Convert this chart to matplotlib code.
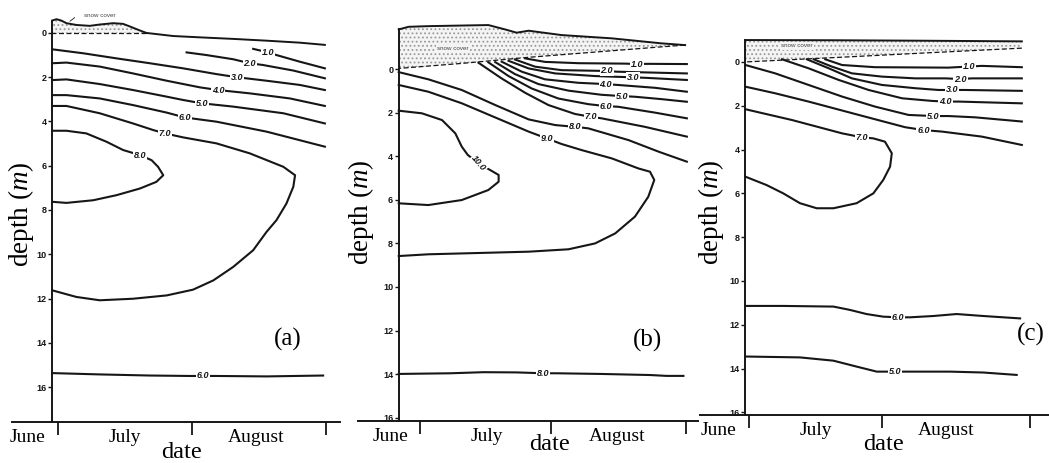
import numpy as np
import matplotlib.pyplot as plt

plt.rcParams['font.family'] = ['Liberation Serif', 'DejaVu Serif']
plt.rcParams['mathtext.fontset'] = 'custom'
plt.rcParams['mathtext.rm'] = 'Liberation Serif'
plt.rcParams['mathtext.it'] = 'Liberation Serif:italic'
plt.rcParams['hatch.color'] = '#9a9a9a'
plt.rcParams['hatch.linewidth'] = 0.8

# x = days since 1 July, y = depth (m)
months = ['June', 'July', 'August']
month_mid = [-7, 15.5, 46]
depth_ticks = [0, 2, 4, 6, 8, 10, 12, 14, 16]

# ---------------- panel (a) ----------------
a_snow_top_day = [-1.3, -0.3, 0.8, 2.0, 4.3, 7.4, 9.7, 12.8, 15.1, 16.7, 19.0, 20.5]
a_snow_top_dep = [-0.56, -0.62, -0.56, -0.44, -0.36, -0.32, -0.38, -0.44, -0.41, -0.29, -0.11, 0.0]
a_snow_bot_day = [20.5, -1.3]
a_snow_bot_dep = [0.0, 0.0]
a_surf_day = [20.5, 26.7, 32.9, 40.6, 48.3, 56.0, 61.8]
a_surf_dep = [0.0, 0.14, 0.20, 0.27, 0.35, 0.44, 0.54]

a1_day = [45.2, 48.7, 50.6, 56.0, 61.8]
a1_dep = [0.72, 0.88, 1.0, 1.30, 1.60]
a2_day = [29.8, 34.4, 40.6, 44.4, 47.5, 54.5, 61.8]
a2_dep = [0.88, 1.0, 1.19, 1.37, 1.45, 1.70, 2.05]
a3_day = [-1.3, 5.9, 13.6, 21.3, 29.0, 36.7, 41.4, 48.3, 56.0, 61.8]
a3_dep = [0.74, 0.92, 1.15, 1.37, 1.60, 1.86, 2.0, 2.16, 2.35, 2.58]
a4_day = [-1.3, 2.0, 9.7, 17.4, 25.2, 32.9, 37.1, 44.4, 53.7, 61.8]
a4_dep = [1.37, 1.34, 1.52, 1.83, 2.16, 2.46, 2.58, 2.73, 2.96, 3.30]
a5_day = [-1.3, 2.0, 9.7, 17.4, 25.2, 29.0, 33.3, 40.6, 52.2, 61.8]
a5_dep = [2.13, 2.10, 2.31, 2.58, 2.88, 3.03, 3.18, 3.33, 3.63, 4.09]
a6_day = [-1.3, 2.0, 9.7, 17.4, 25.2, 29.4, 36.7, 48.3, 61.8]
a6_dep = [2.81, 2.81, 2.96, 3.26, 3.60, 3.82, 4.01, 4.46, 5.14]
a7_day = [-1.3, 2.0, 9.7, 17.4, 22.1, 24.8, 29.0, 36.7, 44.4, 52.2, 54.9, 54.5, 52.9,
          50.6, 48.3, 45.2, 40.6, 36.0, 31.3, 25.2, 17.4, 9.7, 4.3, -1.3]
a7_dep = [3.30, 3.30, 3.63, 4.09, 4.39, 4.54, 4.72, 4.99, 5.44, 6.05, 6.43, 6.95, 7.71,
          8.46, 8.99, 9.82, 10.57, 11.18, 11.60, 11.86, 12.01, 12.08, 11.93, 11.63]
a8_day = [-1.3, 2.0, 6.6, 11.3, 15.1, 19.0, 21.7, 23.2, 24.4, 22.8, 19.0, 13.6, 8.2, 2.0, -1.3]
a8_dep = [4.42, 4.42, 4.54, 4.92, 5.29, 5.52, 5.75, 6.05, 6.43, 6.73, 7.03, 7.33, 7.56, 7.68, 7.63]
a6b_day = [-1.3, 9.7, 21.3, 30.6, 33.6, 36.7, 48.3, 61.4]
a6b_dep = [15.37, 15.43, 15.48, 15.50, 15.50, 15.50, 15.52, 15.48]

# ---------------- panel (b) ----------------
b_snow_top_day = [-5.0, -2.7, 1.9, 15.9, 19.8, 22.5, 25.3, 27.6, 33.0, 44.7, 56.3, 61.8]
b_snow_top_dep = [-1.82, -1.94, -1.97, -2.02, -1.82, -1.67, -1.76, -1.70, -1.56, -1.41, -1.18, -1.10]
b_snow_bot_day = [61.8, 56.3, 40.8, 25.3, 9.7, -5.0]
b_snow_bot_dep = [-1.10, -1.02, -0.78, -0.54, -0.26, -0.03]

b1_day = [24.5, 29.1, 36.9, 47.8, 50.5, 53.2, 62.2]
b1_dep = [-0.49, -0.33, -0.27, -0.25, -0.23, -0.24, -0.23]
b2_day = [22.1, 26.8, 33.0, 41.6, 43.5, 45.8, 62.2]
b2_dep = [-0.44, -0.11, 0.05, 0.08, 0.08, 0.12, 0.20]
b3_day = [20.6, 25.3, 31.5, 40.8, 49.7, 52.4, 62.2]
b3_dep = [-0.38, -0.03, 0.20, 0.32, 0.38, 0.40, 0.50]
b4_day = [19.0, 23.7, 29.1, 36.9, 43.3, 46.2, 54.8, 62.2]
b4_dep = [-0.34, 0.12, 0.47, 0.63, 0.69, 0.73, 0.86, 1.04]
b5_day = [17.5, 22.1, 27.6, 34.6, 42.3, 47.0, 50.1, 56.3, 62.2]
b5_dep = [-0.32, 0.23, 0.69, 0.99, 1.18, 1.24, 1.27, 1.38, 1.50]
b6_day = [15.9, 20.6, 26.0, 32.2, 39.2, 43.3, 46.2, 54.8, 62.2]
b6_dep = [-0.31, 0.32, 0.89, 1.35, 1.61, 1.70, 1.73, 2.00, 2.26]
b7_day = [13.6, 19.0, 24.5, 29.9, 36.1, 39.8, 42.3, 52.4, 62.2]
b7_dep = [-0.29, 0.43, 1.09, 1.65, 2.06, 2.19, 2.26, 2.65, 3.10]
b8_day = [-5.0, 1.9, 9.7, 17.5, 25.3, 31.5, 36.1, 39.2, 48.6, 55.6, 62.2]
b8_dep = [0.14, 0.47, 0.96, 1.65, 2.31, 2.57, 2.65, 2.72, 3.26, 3.79, 4.25]
b9_day = [-5.0, 1.9, 9.7, 17.5, 25.3, 29.5, 33.0, 37.7, 44.7, 50.9, 53.6, 54.6, 53.2,
          50.1, 45.5, 40.8, 34.6, 25.3, 17.5, 9.7, 1.9, -5.0]
b9_dep = [0.73, 1.04, 1.57, 2.22, 2.87, 3.18, 3.44, 3.72, 4.10, 4.56, 4.71, 5.09, 5.86,
          6.77, 7.54, 8.00, 8.27, 8.38, 8.42, 8.46, 8.50, 8.58]
b10_day = [-5.0, 0.4, 5.1, 8.2, 9.7, 11.1, 13.6, 16.3, 18.3, 18.3, 15.9, 9.7, 1.9, -5.0]
b10_dep = [1.91, 2.03, 2.34, 2.95, 3.56, 3.94, 4.33, 4.63, 4.86, 5.17, 5.55, 6.01, 6.24, 6.16]
b8b_day = [-5.0, 7.0, 14.8, 22.5, 28.7, 31.9, 42.0, 53.6, 57.5, 61.4]
b8b_dep = [13.99, 13.96, 13.91, 13.92, 13.96, 13.96, 13.99, 14.04, 14.08, 14.08]

# ---------------- panel (c) ----------------
c_snow_top_day = [-0.8, 20.0, 40.0, 63.6]
c_snow_top_dep = [-1.0, -0.99, -0.97, -0.94]
c_snow_bot_day = [63.6, 40.0, 20.0, -0.8]
c_snow_bot_dep = [-0.63, -0.4, -0.2, 0.0]

c1_day = [17.8, 21.7, 29.4, 46.5, 51.2, 54.3, 63.6]
c1_dep = [-0.12, 0.14, 0.24, 0.26, 0.21, 0.18, 0.24]
c2_day = [15.1, 19.3, 24.0, 31.0, 38.8, 45.8, 49.3, 52.0, 63.6]
c2_dep = [-0.12, 0.21, 0.52, 0.67, 0.75, 0.75, 0.78, 0.75, 0.75]
c3_day = [13.5, 18.6, 24.0, 31.0, 38.8, 44.2, 47.3, 50.4, 63.6]
c3_dep = [-0.12, 0.29, 0.75, 1.05, 1.20, 1.28, 1.28, 1.28, 1.32]
c4_day = [7.7, 13.9, 20.9, 27.9, 35.7, 42.7, 45.8, 48.9, 63.6]
c4_dep = [-0.12, 0.29, 0.82, 1.28, 1.66, 1.78, 1.81, 1.81, 1.89]
c5_day = [-0.8, 6.1, 13.9, 21.7, 29.4, 37.2, 43.0, 46.5, 52.8, 63.6]
c5_dep = [0.14, 0.52, 1.05, 1.58, 2.04, 2.42, 2.47, 2.47, 2.53, 2.72]
c6_day = [-0.8, 6.1, 13.9, 25.6, 36.4, 40.7, 45.0, 54.3, 63.6]
c6_dep = [1.13, 1.43, 1.81, 2.42, 2.98, 3.11, 3.18, 3.41, 3.79]
c7_day = [-0.8, 10.0, 21.7, 26.3, 29.0, 31.7, 33.3, 32.9, 31.3, 29.0, 25.1, 19.7, 15.8,
          11.9, 8.0, 4.1, -0.8]
c7_dep = [2.16, 2.65, 3.26, 3.44, 3.49, 3.64, 4.17, 4.78, 5.39, 6.00, 6.45, 6.68, 6.68,
          6.45, 6.00, 5.62, 5.24]
c6b_day = [-0.8, 8.0, 19.7, 23.5, 27.4, 31.3, 34.8, 37.5, 43.0, 48.4, 54.6, 63.2]
c6b_dep = [11.14, 11.14, 11.17, 11.32, 11.51, 11.63, 11.66, 11.66, 11.60, 11.51, 11.60, 11.71]
c5b_day = [-0.8, 11.9, 19.7, 25.1, 29.8, 34.0, 37.5, 46.9, 54.6, 62.4]
c5b_dep = [13.45, 13.49, 13.64, 13.91, 14.14, 14.14, 14.14, 14.14, 14.18, 14.29]

# level, days, depths, index of the point carrying the label
a_lines = [(1.0, a1_day, a1_dep, 1), (2.0, a2_day, a2_dep, 3), (3.0, a3_day, a3_dep, 6),
           (4.0, a4_day, a4_dep, 6), (5.0, a5_day, a5_dep, 6), (6.0, a6_day, a6_dep, 5),
           (7.0, a7_day, a7_dep, 5), (8.0, a8_day, a8_dep, 5), (6.0, a6b_day, a6b_dep, 4)]
b_lines = [(1.0, b1_day, b1_dep, 4), (2.0, b2_day, b2_dep, 4), (3.0, b3_day, b3_dep, 4),
           (4.0, b4_day, b4_dep, 4), (5.0, b5_day, b5_dep, 5), (6.0, b6_day, b6_dep, 5),
           (7.0, b7_day, b7_dep, 5), (8.0, b8_day, b8_dep, 6), (9.0, b9_day, b9_dep, 5),
           (10.0, b10_day, b10_dep, 6), (8.0, b8b_day, b8b_dep, 4)]
c_lines = [(1.0, c1_day, c1_dep, 4), (2.0, c2_day, c2_dep, 6), (3.0, c3_day, c3_dep, 6),
           (4.0, c4_day, c4_dep, 6), (5.0, c5_day, c5_dep, 6), (6.0, c6_day, c6_dep, 5),
           (7.0, c7_day, c7_dep, 3), (6.0, c6b_day, c6b_dep, 6), (5.0, c5b_day, c5b_dep, 5)]

panels = [
    dict(rect=[0.01144, 0.08855, 0.31268, 0.87905], xlim=(-10.6, 65.3), ylim=(17.58, -0.81),
         spine_x=-1.3, spine_top=-0.56, ticks=[0, 31, 62], lines=a_lines,
         snow=(a_snow_top_day, a_snow_top_dep, a_snow_bot_day, a_snow_bot_dep),
         snow_txt=(9.7, -0.77), ylab=(21, 214), date=(181, 452), tag=('(a)', 288, 339)),
    dict(rect=[0.34128, 0.09071, 0.32412, 0.86177], xlim=(-14.5, 64.8), ylim=(16.15, -2.16),
         spine_x=-5.0, spine_top=-1.82, ticks=[0, 30.5, 62], lines=b_lines,
         snow=(b_snow_top_day, b_snow_top_dep, b_snow_bot_day, b_snow_bot_dep),
         snow_txt=(7.7, -0.96), ylab=(361, 212), date=(550, 445), tag=('(b)', 647, 340)),
    dict(rect=[0.66730, 0.10367, 0.33174, 0.82073], xlim=(-11.4, 69.7), ylim=(16.12, -1.23),
         spine_x=-0.8, spine_top=-1.0, ticks=[0, 31, 65.5], lines=c_lines,
         snow=(c_snow_top_day, c_snow_top_dep, c_snow_bot_day, c_snow_bot_dep),
         snow_txt=(11.2, -0.73), ylab=(711, 212), date=(883, 444), tag=('(c)', 1031, 334)),
]

W, H = 1049, 463
fig = plt.figure(figsize=(W / 100, H / 100), dpi=100)
ink = '#161616'

for i, p in enumerate(panels):
    ax = fig.add_axes(p['rect'])
    ax.set_xlim(*p['xlim'])
    ax.set_ylim(*p['ylim'])
    ax.patch.set_alpha(0)
    for s in ['top', 'right']:
        ax.spines[s].set_visible(False)
    ax.spines['left'].set_position(('data', p['spine_x']))
    ax.spines['left'].set_bounds(p['spine_top'], p['ylim'][0])
    for s in ['left', 'bottom']:
        ax.spines[s].set_linewidth(1.4)
        ax.spines[s].set_color(ink)

    ax.set_yticks(depth_ticks)
    ax.set_yticklabels([str(d) for d in depth_ticks], fontsize=6.5, fontweight='bold',
                       family='Liberation Sans')
    ax.tick_params(axis='y', direction='out', length=3, width=1, pad=1, colors=ink)
    ax.set_xticks(month_mid)
    ax.set_xticklabels(months, fontsize=14)
    ax.set_xticks(p['ticks'], minor=True)
    ax.tick_params(axis='x', which='major', length=0, pad=5)
    ax.tick_params(axis='x', which='minor', length=9, width=1.3, direction='out', color=ink)

    # snow cover
    td, tp, bd, bp = p['snow']
    ax.fill(td + bd, tp + bp, facecolor='#f4f4f4', edgecolor='#9a9a9a', linewidth=0,
            hatch='....', zorder=1)
    ax.plot(td, tp, color=ink, lw=1.4, zorder=3)
    ax.plot(bd, bp, color=ink, lw=0.9, ls=(0, (4, 2)), zorder=3)
    box = None if i == 0 else dict(facecolor='#f4f4f4', edgecolor='none', pad=0.8)
    ax.text(*p['snow_txt'], 'snow cover', fontsize=4.5, color='#444', ha='center', va='center',
            family='Liberation Sans', zorder=4, bbox=box)

    for level, xs, ys, li in p['lines']:
        ax.plot(xs, ys, color=ink, lw=1.5, solid_joinstyle='round', zorder=3)
        rot = -50 if level == 10.0 else 0
        ax.text(xs[li], ys[li], f'{level:.1f}', fontsize=6.5, fontweight='bold',
                fontstyle='italic', family='Liberation Sans', ha='center', va='center',
                rotation=rot, color=ink, zorder=5,
                bbox=dict(facecolor='white', edgecolor='none', pad=0.6))

    fig.text(p['ylab'][0] / W, 1 - p['ylab'][1] / H, 'depth ($m$)', rotation=90,
             fontsize=19.5, ha='center', va='center')
    fig.text(p['date'][0] / W, 1 - p['date'][1] / H, 'date', fontsize=17.5,
             ha='center', va='center')
    fig.text(p['tag'][1] / W, 1 - p['tag'][2] / H, p['tag'][0], fontsize=18,
             ha='center', va='center')

# ice surface after the snow in (a)
fig.axes[0].plot(a_surf_day, a_surf_dep, color=ink, lw=1.4, zorder=3)
fig.axes[0].annotate('', xy=(2.3, -0.45), xytext=(4.4, -0.77),
                     arrowprops=dict(arrowstyle='-', lw=0.6, color=ink))

fig.savefig('out.png', dpi=100)
